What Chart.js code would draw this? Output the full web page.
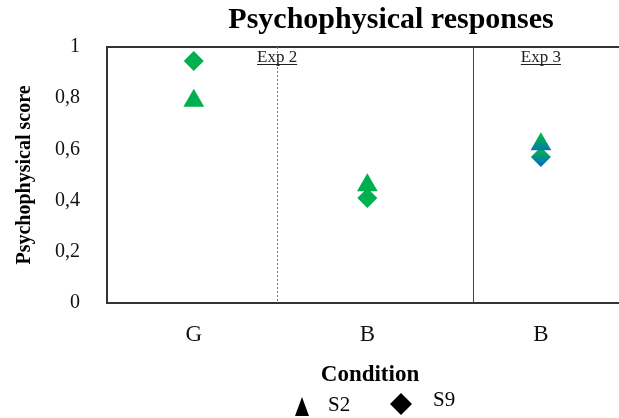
<!DOCTYPE html>
<html>
<head>
<meta charset="utf-8">
<script src="https://cdn.jsdelivr.net/npm/chart.js@4/dist/chart.umd.min.js"></script>
<style>
  html, body { margin: 0; padding: 0; background: #fff; overflow: hidden; }
  #wrap { width: 619px; height: 418px; position: relative; }
  canvas { display: block; }
</style>
</head>
<body>
<div id="wrap"><canvas id="psycho-chart"></canvas></div>
<script>
// Data
const conditions   = ["G", "B", "B"];
const conditionX   = [0.5, 1.5, 2.5];
const s2Scores     = [0.79, 0.46, 0.62];
const s9Scores     = [0.945, 0.41, 0.57];
const seriesNames  = ["S2", "S9"];
const yTicks       = [0, 0.2, 0.4, 0.6, 0.8, 1];
const expLabels    = ["Exp 2", "Exp 3"];
const expLabelX    = [0.98, 2.5];
const separatorX   = [0.98, 2.11];
const gradientIdx  = [2];          // Exp 3 points are green->blue

const GREEN = "#00b050";
const BLUE  = "#0070c0";
const SERIF = "'Liberation Serif', 'Times New Roman', serif";

function markerFill(radius) {
    return ctx => {
        if (ctx.type !== "data" || !gradientIdx.includes(ctx.dataIndex)) return GREEN;
        const chart = ctx.chart;
        const scale = chart.scales && chart.scales.y;
        if (!scale) return GREEN;
        const y = scale.getPixelForValue(ctx.raw.y);
        if (!isFinite(y)) return GREEN;
        const g = chart.ctx.createLinearGradient(0, y - radius, 0, y + radius);
        g.addColorStop(0, GREEN);
        g.addColorStop(0.2, GREEN);
        g.addColorStop(0.85, BLUE);
        return g;
    };
}

const decorPlugin = {
    id: "decor",
    beforeDatasetsDraw(chart) {
        const { ctx, chartArea, scales } = chart;
        ctx.save();
        // top frame line
        ctx.strokeStyle = "#333";
        ctx.lineWidth = 2;
        ctx.beginPath();
        ctx.moveTo(chartArea.left, chartArea.top);
        ctx.lineTo(chartArea.right, chartArea.top);
        ctx.stroke();
        // separators: dotted for Exp 2, solid for Exp 3
        separatorX.forEach((v, i) => {
            const x = Math.round(scales.x.getPixelForValue(v)) + 0.5;
            ctx.beginPath();
            ctx.lineWidth = 1;
            ctx.strokeStyle = i === 0 ? "#777" : "#444";
            ctx.setLineDash(i === 0 ? [2, 2] : []);
            ctx.moveTo(x, chartArea.top);
            ctx.lineTo(x, chartArea.bottom);
            ctx.stroke();
        });
        ctx.setLineDash([]);
        // Exp labels, underlined
        ctx.font = "17px " + SERIF;
        ctx.fillStyle = "#222";
        ctx.textAlign = "center";
        ctx.textBaseline = "alphabetic";
        expLabels.forEach((t, i) => {
            const x = scales.x.getPixelForValue(expLabelX[i]);
            const y = chartArea.top + 15;
            ctx.fillText(t, x, y);
            const w = ctx.measureText(t).width;
            ctx.fillRect(x - w / 2, y + 2, w, 1);
        });
        ctx.restore();
    },
    afterDraw(chart) {
        const { ctx } = chart;
        ctx.save();
        ctx.fillStyle = "#000";
        ctx.textAlign = "center";
        ctx.textBaseline = "middle";
        // title
        ctx.font = "bold 30px " + SERIF;
        ctx.fillText("Psychophysical responses", 391, 20);
        // legend
        ctx.font = "bold 23px " + SERIF;
        ctx.fillText("Condition", 370, 375);
        ctx.font = "21px " + SERIF;
        ctx.textAlign = "left";
        // S2 triangle
        ctx.beginPath();
        ctx.moveTo(302, 397);
        ctx.lineTo(309, 416);
        ctx.lineTo(295, 416);
        ctx.closePath();
        ctx.fill();
        ctx.fillText(seriesNames[0], 328, 405);
        // S9 diamond
        ctx.beginPath();
        ctx.moveTo(401, 393);
        ctx.lineTo(412, 404);
        ctx.lineTo(401, 415);
        ctx.lineTo(390, 404);
        ctx.closePath();
        ctx.fill();
        ctx.fillText(seriesNames[1], 433, 400);
        ctx.restore();
    },
};

function initChart() {
    const canvas = document.getElementById("psycho-chart");
    new Chart(canvas, {
        type: "scatter",
        data: {
            datasets: [
                {
                    label: seriesNames[0],
                    data: conditionX.map((x, i) => ({ x: x, y: s2Scores[i] })),
                    pointStyle: "triangle",
                    pointRadius: 12,
                    backgroundColor: markerFill(12),
                    borderWidth: 0,
                },
                {
                    label: seriesNames[1],
                    data: conditionX.map((x, i) => ({ x: x, y: s9Scores[i] })),
                    pointStyle: "rectRot",
                    pointRadius: 10,
                    backgroundColor: markerFill(10),
                    borderWidth: 0,
                },
            ],
        },
        options: {
            responsive: true,
            maintainAspectRatio: false,
            animation: false,
            layout: { autoPadding: false, padding: { top: 47, left: 0, right: 0, bottom: 0 } },
            plugins: {
                legend: { display: false },
                title: { display: false },
                tooltip: { enabled: false },
            },
            scales: {
                x: {
                    type: "linear",
                    min: 0,
                    max: 2.95,
                    afterBuildTicks: s => { s.ticks = conditionX.map(v => ({ value: v })); },
                    afterFit: s => { s.height = 115; s.paddingLeft = 0; s.paddingRight = 0; },
                    grid: { display: false },
                    border: { display: true, color: "#333", width: 2 },
                    ticks: {
                        callback: (v) => conditions[conditionX.indexOf(v)],
                        color: "#111",
                        font: { family: SERIF, size: 23 },
                        padding: 10,
                        maxRotation: 0,
                    },
                },
                y: {
                    min: 0,
                    max: 1,
                    afterBuildTicks: s => { s.ticks = yTicks.map(v => ({ value: v })); },
                    afterFit: s => { s.width = 107; },
                    grid: { display: false },
                    border: { display: true, color: "#333", width: 2 },
                    ticks: {
                        callback: v => String(v).replace(".", ","),
                        color: "#111",
                        font: { family: SERIF, size: 20 },
                        padding: 19,
                    },
                    title: {
                        display: true,
                        text: "Psychophysical score",
                        color: "#000",
                        font: { family: SERIF, size: 20, weight: "bold" },
                        padding: { top: 13, bottom: 0 },
                    },
                },
            },
        },
        plugins: [decorPlugin],
    });
}

if (document.readyState === "loading") {
    document.addEventListener("DOMContentLoaded", initChart);
} else {
    initChart();
}
</script>
</body>
</html>
